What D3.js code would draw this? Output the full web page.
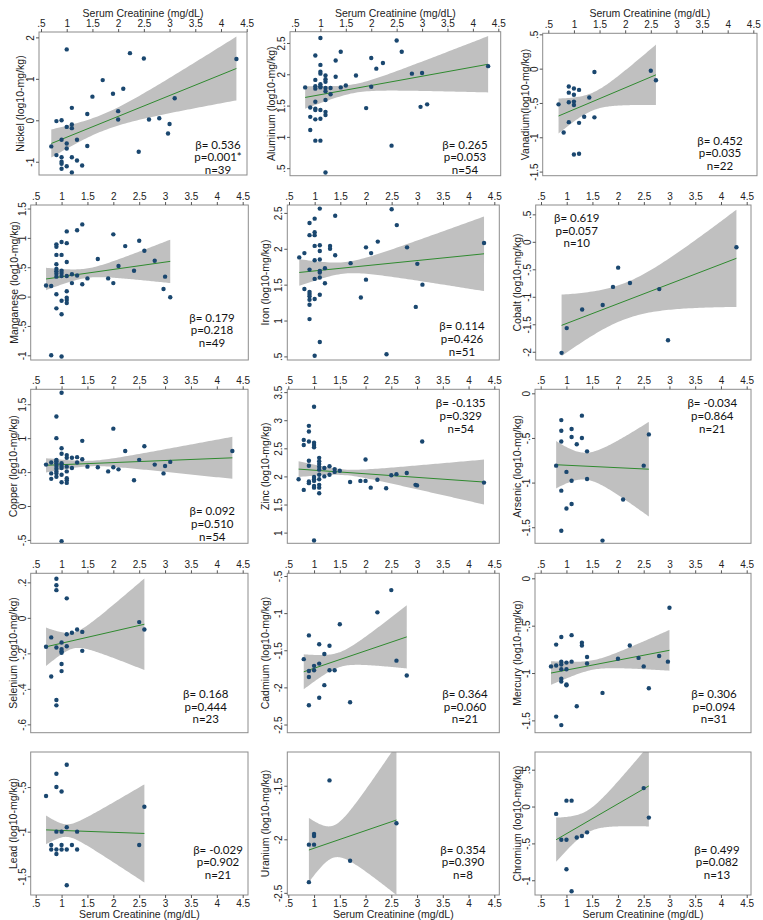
<!DOCTYPE html>
<html><head><meta charset="utf-8">
<script src="https://cdn.jsdelivr.net/npm/d3@7"></script>
<style>body{margin:0;background:#fff} svg{display:block}</style>
</head><body>
<svg id="c" width="763" height="920"></svg>
<script>
// ---------------- DATA ----------------
const xTicks = [0.5, 1, 1.5, 2, 2.5, 3, 3.5, 4, 4.5];
const xTitle = "Serum Creatinine (mg/dL)";
const metals = ["Nickel","Aluminum","Vanadium","Manganese","Iron","Cobalt","Copper","Zinc","Arsenic","Selenium","Cadmium","Mercury","Lead","Uranium","Chromium"];
const yTitles = ["Nickel (log10-mg/kg)","Aluminum (log10-mg/kg)","Vanadium(log10-mg/kg)","Manganese (log10-mg/kg)","Iron (log10-mg/kg)","Cobalt (log10-mg/kg)","Copper (log10-mg/kg)","Zinc (log10-mg/kg)","Arsenic (log10-mg/kg)","Selenium (log10-mg/kg)","Cadmium (log10-mg/kg)","Mercury (log10-mg/kg)","Lead (log10-mg/kg)","Uranium (log10-mg/kg)","Chromium (log10-mg/kg)"];
const betas = ["0.536","0.265","0.452","0.179","0.114","0.619","0.092","-0.135","-0.034","0.168","0.364","0.306","-0.029","0.354","0.499"];
const pvals = ["0.001*","0.053","0.035","0.218","0.426","0.057","0.510","0.329","0.864","0.444","0.060","0.094","0.902","0.390","0.082"];
const ns = [39,54,22,49,51,10,54,54,21,23,21,31,21,8,13];

const yTicks = [
  [-1,0,1,2],[0.5,1,1.5,2,2.5],[-1.5,-1,-0.5,0,0.5],
  [-1,-0.5,0,0.5,1,1.5],[0.5,1,1.5,2,2.5],[-2,-1.5,-1,-0.5,0,0.5],
  [-0.5,0,0.5,1,1.5],[1,1.5,2,2.5,3,3.5],[-1.5,-1,-0.5,0],
  [-0.6,-0.4,-0.2,0,0.2],[-2.5,-2,-1.5,-1,-0.5],[-1.5,-1,-0.5,0],
  [-1.5,-1,-0.5],[-2.5,-2,-1.5],[-1,-0.5,0,0.5]
];
// value range covered by each plot box (bottom, top)
const yRanges = [
  [-1.32,2.13],[0.38,2.68],[-1.56,0.515],
  [-1.08,1.56],[0.45,2.61],[-2.15,0.67],
  [-0.55,1.72],[0.81,3.55],[-1.68,0.045],
  [-0.647,0.251],[-2.61,-0.464],[-1.63,0.053],
  [-1.71,-0.107],[-2.52,-1.185],[-1.2,0.74]
];
// fitted line: x0, y0, x1, y1
const fitLines = [
  [0.7,-0.56,4.3,1.25],[0.7,1.63,4.3,2.16],[0.7,-0.69,2.6,-0.09],
  [0.7,0.30,3.1,0.60],[0.7,1.67,4.3,1.93],[0.9,-1.52,4.3,-0.30],
  [0.7,0.60,4.3,0.71],[0.7,2.13,4.3,1.90],[0.8,-0.80,2.6,-0.85],
  [0.7,-0.163,2.6,-0.036],[0.8,-1.79,2.8,-1.32],[0.7,-1.0,3.0,-0.76],
  [0.7,-0.98,2.6,-1.02],[0.9,-2.1,2.6,-1.82],[0.8,-0.45,2.6,0.28]
];
// CI half-width read at left end, narrowest point, right end
const ciHalf = [
  [0.34,0.2,0.77],[0.18,0.07,0.45],[0.255,0.13,0.44],
  [0.19,0.08,0.37],[0.185,0.08,0.52],[0.56,0.33,0.885],
  [0.105,0.04,0.31],[0.14,0.05,0.40],[0.265,0.15,0.53],
  [0.108,0.045,0.258],[0.235,0.10,0.425],[0.125,0.05,0.215],
  [0.16,0.07,0.55],[0.3,0.15,0.7],[0.3,0.15,0.55]
];

const nickelPts = [[0.7,-0.63],[0.8,-0.02],[0.8,-0.84],[0.9,0.0],[0.9,-0.47],[0.9,-0.89],[0.9,-1.0],[0.9,-1.05],[0.9,-1.17],[1.0,1.71],[1.0,-0.16],[1.0,-0.56],[1.0,-0.68],[1.0,-1.11],[1.1,0.30],[1.1,-0.10],[1.1,-0.19],[1.1,-0.89],[1.1,-1.26],[1.2,-0.47],[1.2,-0.97],[1.3,-1.09],[1.4,0.15],[1.4,-0.62],[1.5,0.57],[1.7,0.97],[1.9,0.64],[2.0,0.22],[2.0,0.02],[2.1,0.76],[2.23,1.62],[2.4,-0.76],[2.5,1.49],[2.6,0.02],[2.8,0.05],[2.97,-0.32],[3.0,-0.09],[3.1,0.53],[4.3,1.48]];
const aluminumPts = [[0.7,1.79],[0.8,1.47],[0.8,1.32],[0.8,1.11],[0.9,2.30],[0.9,1.91],[0.9,1.81],[0.9,1.77],[0.9,1.56],[0.9,1.45],[0.9,1.43],[0.9,1.28],[0.9,0.94],[1.0,2.58],[1.0,2.15],[1.0,2.04],[1.0,2.01],[1.0,1.84],[1.0,1.81],[1.0,1.79],[1.0,1.43],[1.0,1.29],[1.0,0.94],[1.1,1.98],[1.1,1.92],[1.1,1.88],[1.1,1.78],[1.1,1.73],[1.1,1.59],[1.1,1.40],[1.1,1.35],[1.1,0.43],[1.2,1.78],[1.2,1.68],[1.3,2.22],[1.3,1.96],[1.4,2.36],[1.4,1.79],[1.5,1.82],[1.7,1.98],[1.9,1.46],[2.0,2.26],[2.0,1.80],[2.1,2.09],[2.23,2.18],[2.4,0.86],[2.5,2.54],[2.6,2.36],[2.8,2.01],[2.97,1.48],[3.0,2.02],[3.1,1.52],[4.3,2.13]];
const vanadiumPts = [[0.7,-0.52],[0.8,-0.93],[0.9,-0.26],[0.9,-0.35],[0.9,-0.49],[0.9,-0.78],[1.0,-0.29],[1.0,-0.38],[1.0,-0.48],[1.0,-0.53],[1.0,-1.25],[1.1,-0.31],[1.1,-0.79],[1.1,-1.24],[1.2,-0.70],[1.3,-0.42],[1.4,-0.05],[1.4,-0.71],[2.5,-0.03],[2.6,-0.17]];
const manganesePts = [[0.7,0.19],[0.8,0.18],[0.8,-1.0],[0.9,0.89],[0.9,0.85],[0.9,0.71],[0.9,0.55],[0.9,0.47],[0.9,0.43],[0.9,0.39],[0.9,0.34],[0.9,0.04],[0.9,-0.20],[1.0,0.93],[1.0,0.71],[1.0,0.44],[1.0,0.40],[1.0,0.35],[1.0,-0.07],[1.0,-0.30],[1.0,-1.02],[1.1,1.11],[1.1,0.91],[1.1,0.59],[1.1,0.35],[1.1,0.09],[1.1,-0.02],[1.1,-0.06],[1.1,-0.11],[1.2,0.38],[1.2,0.23],[1.3,1.13],[1.3,0.36],[1.4,1.23],[1.4,0.21],[1.5,0.31],[1.7,0.64],[1.9,0.31],[2.0,1.06],[2.0,0.23],[2.1,0.52],[2.23,0.86],[2.4,0.44],[2.5,0.95],[2.6,0.78],[2.8,0.61],[2.97,0.13],[3.0,0.34],[3.1,-0.01]];
const ironPts = [[0.7,1.88],[0.8,1.94],[0.8,1.44],[0.9,2.36],[0.9,2.19],[0.9,1.71],[0.9,1.40],[0.9,1.37],[0.9,1.34],[0.9,1.29],[0.9,1.22],[0.9,1.02],[1.0,2.42],[1.0,2.23],[1.0,2.19],[1.0,2.04],[1.0,1.84],[1.0,1.58],[1.0,1.30],[1.0,0.51],[1.1,2.56],[1.1,2.05],[1.1,1.97],[1.1,1.85],[1.1,1.69],[1.1,1.67],[1.1,1.60],[1.1,1.36],[1.1,0.70],[1.2,1.73],[1.2,1.52],[1.3,2.04],[1.3,2.0],[1.4,2.46],[1.4,1.91],[1.7,1.80],[1.9,1.32],[2.0,2.02],[2.0,1.57],[2.1,1.94],[2.23,2.10],[2.4,0.53],[2.5,2.55],[2.6,2.33],[2.8,2.02],[3.0,1.79],[2.97,1.19],[3.1,1.50],[4.3,2.08]];
const cobaltPts = [[0.9,-2.02],[1.0,-1.57],[1.3,-1.23],[1.7,-1.15],[1.9,-0.82],[2.0,-0.47],[2.23,-0.75],[2.8,-0.86],[2.97,-1.79],[4.3,-0.10]];
const copperPts = [[0.7,0.61],[0.8,0.64],[0.8,0.48],[0.8,0.40],[0.9,1.32],[0.9,1.0],[0.9,0.68],[0.9,0.66],[0.9,0.63],[0.9,0.59],[0.9,0.55],[0.9,0.51],[0.9,0.48],[0.9,0.43],[1.0,1.67],[1.0,0.85],[1.0,0.77],[1.0,0.63],[1.0,0.59],[1.0,0.56],[1.0,0.46],[1.0,0.35],[1.0,-0.52],[1.1,0.75],[1.1,0.71],[1.1,0.58],[1.1,0.51],[1.1,0.41],[1.1,0.38],[1.1,0.34],[1.2,0.71],[1.2,0.56],[1.3,0.72],[1.3,0.64],[1.4,0.96],[1.4,0.69],[1.5,0.58],[1.7,0.57],[1.9,0.51],[2.0,1.14],[2.0,0.57],[2.1,0.54],[2.23,0.81],[2.4,0.38],[2.5,0.68],[2.6,0.88],[2.8,0.61],[2.97,0.48],[3.0,0.59],[3.1,0.65],[4.3,0.81]];
const zincPts = [[0.7,1.95],[0.8,2.65],[0.8,2.56],[0.8,1.76],[0.9,2.90],[0.9,2.80],[0.9,2.62],[0.9,2.28],[0.9,2.19],[0.9,1.91],[0.9,1.88],[1.0,3.24],[1.0,2.60],[1.0,2.56],[1.0,2.52],[1.0,1.99],[1.0,1.95],[1.0,1.92],[1.0,1.83],[1.0,1.80],[1.0,0.86],[1.1,2.33],[1.1,2.27],[1.1,2.22],[1.1,2.17],[1.1,2.12],[1.1,2.03],[1.1,1.95],[1.1,1.85],[1.1,1.80],[1.1,1.70],[1.2,2.15],[1.2,2.0],[1.3,2.18],[1.3,2.03],[1.4,2.13],[1.4,2.08],[1.5,2.10],[1.7,1.90],[1.9,1.92],[2.0,2.30],[2.0,1.92],[2.1,1.80],[2.23,1.94],[2.4,1.79],[2.5,2.02],[2.6,2.04],[2.8,2.06],[2.97,1.85],[3.0,1.84],[3.1,2.62],[4.3,1.89]];
const arsenicPts = [[0.8,-0.81],[0.9,-0.30],[0.9,-0.42],[0.9,-0.54],[0.9,-1.09],[0.9,-1.54],[1.0,-0.88],[1.0,-1.29],[1.1,-0.40],[1.1,-0.49],[1.1,-0.98],[1.1,-1.24],[1.2,-0.57],[1.3,-0.25],[1.3,-0.50],[1.4,-0.65],[1.4,-0.96],[1.7,-1.65],[2.1,-1.19],[2.5,-0.81],[2.6,-0.46]];
const seleniumPts = [[0.7,-0.163],[0.8,-0.11],[0.8,-0.33],[0.9,0.22],[0.9,0.184],[0.9,0.156],[0.9,-0.167],[0.9,-0.463],[0.9,-0.493],[1.0,-0.139],[1.0,-0.176],[1.0,-0.188],[1.0,-0.197],[1.0,-0.26],[1.0,-0.30],[1.1,0.11],[1.1,-0.092],[1.1,-0.16],[1.2,-0.084],[1.3,-0.066],[1.4,-0.079],[1.4,-0.186],[2.5,-0.024],[2.6,-0.066]];
const cadmiumPts = [[0.8,-1.62],[0.9,-1.30],[0.9,-1.78],[0.9,-1.86],[0.9,-2.24],[1.0,-1.71],[1.0,-1.77],[1.1,-1.42],[1.1,-1.68],[1.1,-2.14],[1.2,-1.55],[1.2,-1.97],[1.3,-1.44],[1.3,-1.77],[1.4,-1.77],[1.5,-1.15],[1.7,-2.20],[2.23,-0.99],[2.5,-0.69],[2.6,-1.64],[2.8,-1.84]];
const mercuryPts = [[0.7,-0.93],[0.8,-0.70],[0.8,-0.92],[0.8,-1.46],[0.9,-0.62],[0.9,-0.88],[0.9,-0.91],[0.9,-0.96],[0.9,-1.06],[0.9,-1.09],[0.9,-1.55],[1.0,-0.89],[1.0,-0.96],[1.0,-1.12],[1.0,-1.13],[1.1,-0.60],[1.1,-0.88],[1.2,-1.35],[1.3,-0.68],[1.3,-0.71],[1.4,-0.83],[1.4,-0.90],[1.7,-1.21],[2.0,-0.85],[2.23,-0.71],[2.4,-0.84],[2.5,-0.93],[2.6,-1.16],[2.8,-0.82],[2.97,-0.88],[3.0,-0.31]];
const leadPts = [[0.7,-0.6],[0.8,-1.15],[0.8,-1.2],[0.9,-0.35],[0.9,-0.5],[0.9,-1.0],[0.9,-1.2],[0.9,-1.25],[1.0,-0.55],[1.0,-1.0],[1.0,-1.15],[1.0,-1.2],[1.1,-0.25],[1.1,-0.95],[1.1,-1.2],[1.1,-1.6],[1.2,-1.15],[1.3,-1.2],[1.3,-1.0],[2.5,-1.15],[2.6,-0.72]];
const uraniumPts = [[0.9,-2.4],[0.9,-2.05],[1.0,-1.97],[1.0,-1.95],[1.3,-1.45],[1.7,-2.2],[2.6,-1.85],[1.0,-2.05]];
const chromiumPts = [[0.8,-0.1],[0.9,-0.45],[1.0,0.08],[1.0,-0.85],[1.1,0.08],[1.1,-1.15],[1.0,-0.45],[1.2,-0.42],[1.3,-0.4],[1.4,-0.35],[2.2,0.85],[2.5,0.25],[2.6,-0.15]];
const allPts = [nickelPts,aluminumPts,vanadiumPts,manganesePts,ironPts,cobaltPts,copperPts,zincPts,arsenicPts,seleniumPts,cadmiumPts,mercuryPts,leadPts,uraniumPts,chromiumPts];

// ---------------- LAYOUT (pixels) ----------------
const layout = [
  {L:39,R:247,T:32,B:175,x0:41,x1:246.7,tx:20,sx:218,sy:144},
  {L:290,R:500.7,T:31.7,B:175.7,x0:295,x1:498.3,tx:270.7,sx:465,sy:144},
  {L:542.7,R:757,T:33.3,B:175.7,x0:548.3,x1:753.3,tx:525,sx:720,sy:140},
  {L:30.7,R:248.3,T:205,B:360,x0:35.7,x1:242.7,tx:14,sx:212,sy:317},
  {L:287.3,R:499.3,T:205,B:360,x0:289,x1:494.3,tx:265,sx:462,sy:325.7},
  {L:535.7,R:751,T:205,B:360,x0:541,x1:746.7,tx:517,sx:576.7,sy:217.3},
  {L:30.7,R:248,T:389.3,B:543.3,x0:35.7,x1:242.7,tx:13.3,sx:212.3,sy:510.7},
  {L:287.3,R:499.3,T:389.3,B:543.3,x0:288.3,x1:494.3,tx:265,sx:460.7,sy:402.7},
  {L:535,R:751,T:389.3,B:543.3,x0:540.7,x1:746.7,tx:516.7,sx:712.3,sy:402.7},
  {L:30.7,R:248,T:573.3,B:732.7,x0:35.7,x1:242.7,tx:13.3,sx:205.7,sy:693.3},
  {L:287.3,R:499.3,T:573.3,B:732.7,x0:288.3,x1:494.3,tx:265,sx:465,sy:693.3},
  {L:535,R:751,T:573.3,B:732.7,x0:540.7,x1:746.7,tx:516.7,sx:714,sy:693.3},
  {L:30.7,R:248,T:752,B:895,x0:35.7,x1:242.7,tx:13.3,sx:218,sy:849},
  {L:287.3,R:499.3,T:752,B:895,x0:288.3,x1:494.3,tx:265,sx:463,sy:849},
  {L:535,R:751,T:752,B:895,x0:540.7,x1:746.7,tx:516.7,sx:717,sy:849}
];

const svg = d3.select("#c");
const fmt = d => { const s = String(+d.toFixed(3)); return s.replace(/^(-?)0\./, "$1."); };
const AX = "Liberation Sans, Arial, sans-serif";
const ST = "Lato, 'Open Sans', sans-serif";

function halfWidthFn(fx0, fx1, h) {
  const [h0, hc, h1] = h;
  const r = Math.sqrt((h0*h0 - hc*hc) / (h1*h1 - hc*hc));
  const c = (fx0 + r*fx1) / (1 + r);
  const b = (fx0 === c) ? 0 : (h0*h0 - hc*hc) / ((fx0 - c) * (fx0 - c));
  return x => Math.sqrt(hc*hc + b*(x - c)*(x - c));
}

metals.forEach((m, i) => {
  const lo = layout[i];
  const row = Math.floor(i / 3);
  const g = svg.append("g");
  const x = d3.scaleLinear().domain([0.5, 4.5]).range([lo.x0, lo.x1]);
  const y = d3.scaleLinear().domain(yRanges[i]).range([lo.B, lo.T]);
  const [fx0, fy0, fx1, fy1] = fitLines[i];
  const lineY = d3.scaleLinear().domain([fx0, fx1]).range([fy0, fy1]);
  const hw = halfWidthFn(fx0, fx1, ciHalf[i]);
  const xs = d3.range(0, 81).map(k => fx0 + (fx1 - fx0) * k / 80);

  const clipId = "clip" + i;
  g.append("clipPath").attr("id", clipId).append("rect")
    .attr("x", lo.L).attr("y", lo.T).attr("width", lo.R - lo.L).attr("height", lo.B - lo.T);
  const inner = g.append("g").attr("clip-path", `url(#${clipId})`);

  inner.append("path").datum(xs)
    .attr("d", d3.area().x(d => x(d)).y0(d => y(lineY(d) - hw(d))).y1(d => y(lineY(d) + hw(d))))
    .attr("fill", "#c0c0c0");
  inner.append("path").datum([fx0, fx1])
    .attr("d", d3.line().x(d => x(d)).y(d => y(lineY(d))))
    .attr("stroke", "#2f8a2f").attr("stroke-width", 1).attr("fill", "none");
  inner.selectAll("circle").data(allPts[i]).join("circle")
    .attr("cx", d => x(d[0])).attr("cy", d => y(d[1])).attr("r", 2.2)
    .attr("fill", "#1a476f");

  g.append("rect").attr("x", lo.L).attr("y", lo.T).attr("width", lo.R - lo.L).attr("height", lo.B - lo.T)
    .attr("fill", "none").attr("stroke", "#8c8c8c").attr("stroke-width", 1);

  const xa = (row < 4 ? d3.axisTop(x) : d3.axisBottom(x)).tickValues(xTicks).tickSize(3).tickPadding(2).tickFormat(fmt);
  const xg = g.append("g").attr("transform", `translate(0,${row < 4 ? lo.T : lo.B})`).call(xa);
  xg.select(".domain").remove();
  xg.selectAll("line").attr("stroke", "#555");
  xg.selectAll("text").attr("font-family", AX).attr("font-size", 10).attr("fill", "#222");

  const ya = d3.axisLeft(y).tickValues(yTicks[i]).tickSize(3).tickFormat(fmt);
  const yg = g.append("g").attr("transform", `translate(${lo.L},0)`).call(ya);
  yg.select(".domain").remove();
  yg.selectAll("line").attr("stroke", "#555");
  yg.selectAll("text").attr("x", null).attr("dy", null)
    .attr("transform", "translate(-5,0) rotate(-90)")
    .attr("text-anchor", "middle")
    .attr("font-family", AX).attr("font-size", 10).attr("fill", "#222");

  g.append("text").attr("transform", `translate(${lo.tx},${(lo.T + lo.B) / 2}) rotate(-90)`)
    .attr("text-anchor", "middle").attr("dominant-baseline", "central")
    .attr("font-family", AX).attr("font-size", 10.5).attr("fill", "#222").text(yTitles[i]);

  if (row === 0) {
    g.append("text").attr("x", (lo.L + lo.R) / 2).attr("y", 12.5).attr("text-anchor", "middle")
      .attr("dominant-baseline", "central").attr("font-family", AX).attr("font-size", 10.5).attr("fill", "#222").text(xTitle);
  }
  if (row === 4) {
    g.append("text").attr("x", (lo.L + lo.R) / 2).attr("y", 914).attr("text-anchor", "middle")
      .attr("dominant-baseline", "central").attr("font-family", AX).attr("font-size", 10.5).attr("fill", "#222").text(xTitle);
  }

  const lines = ["\u03B2= " + betas[i], "p=" + pvals[i], "n=" + ns[i]];
  lines.forEach((t, k) => {
    g.append("text").attr("x", lo.sx).attr("y", lo.sy + k * 12.7).attr("text-anchor", "middle")
      .attr("dominant-baseline", "central").attr("font-family", ST).attr("font-size", 11.5).attr("fill", "#111").text(t);
  });
});
</script>
</body></html>
